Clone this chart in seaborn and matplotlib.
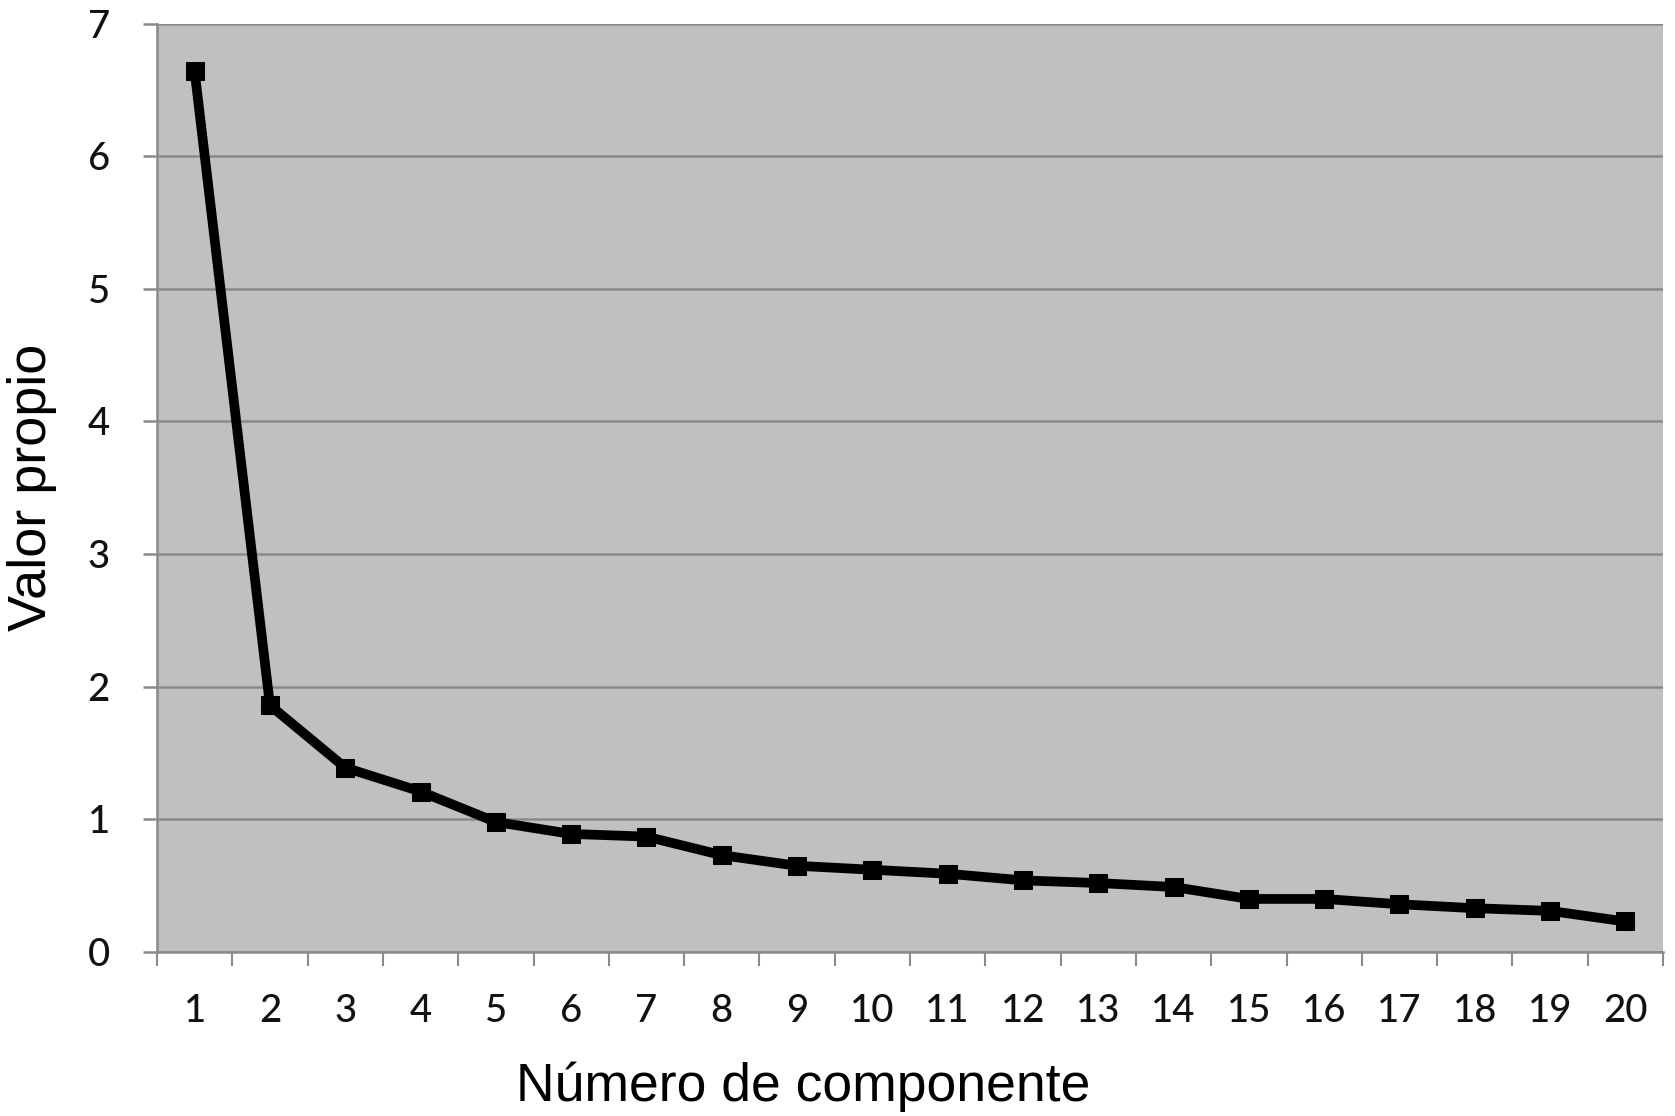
import matplotlib
matplotlib.use("Agg")
import matplotlib.pyplot as plt
import seaborn as sns
import pandas as pd
import numpy as np
from matplotlib.ticker import FixedLocator

componentes = list(range(1, 21))
valores = [6.64, 1.86, 1.39, 1.21, 0.98, 0.89, 0.87, 0.73, 0.65, 0.62,
           0.59, 0.54, 0.52, 0.49, 0.40, 0.40, 0.36, 0.33, 0.31, 0.23]
y_ticks = [0, 1, 2, 3, 4, 5, 6, 7]
x_label = "Número de componente"
y_label = "Valor propio"

df = pd.DataFrame({"componente": componentes, "valor": valores})

sns.set_style("white")
fig = plt.figure(figsize=(16.75, 11.16), dpi=100)
ax = fig.add_axes([157/1675, 1-952/1116, (1663-157)/1675, (952-23.5)/1116])
ax.set_facecolor("#c0c0c0")

sns.lineplot(data=df, x="componente", y="valor", ax=ax, color="black",
             linewidth=7, marker="s", markersize=13, markeredgecolor="black",
             markerfacecolor="black", zorder=5)

ax.set_xlim(0.5, 20.5)
ax.set_ylim(0, 7)
ax.set_yticks(y_ticks)
ax.yaxis.grid(True, color="#8a8a8a", linewidth=1.8)
ax.set_axisbelow(True)

ax.set_xticks(componentes)
ax.set_xticklabels([str(c) for c in componentes])
ax.xaxis.set_minor_locator(FixedLocator(np.arange(0.5, 21, 1.0)))
ax.tick_params(axis="x", which="major", length=0, pad=30, labelsize=27.5,
               labelcolor="#111111")
ax.tick_params(axis="x", which="minor", length=10, width=1.5, color="#8a8a8a",
               direction="out", bottom=True)
ax.tick_params(axis="y", which="major", length=10, width=1.8, color="#8a8a8a",
               pad=24, labelsize=27.5, labelcolor="#111111", left=True)

for t in ax.get_xticklabels() + ax.get_yticklabels():
    t.set_family(["Lato", "DejaVu Sans"])
    t.set_fontweight("medium")

for side in ["top", "right"]:
    ax.spines[side].set_visible(False)
for side in ["left", "bottom"]:
    ax.spines[side].set_color("#8a8a8a")
    ax.spines[side].set_linewidth(1.8)

ax.set_xlabel(x_label, fontsize=38.5, family=["Liberation Sans", "DejaVu Sans"],
              color="black")
ax.set_ylabel(y_label, fontsize=39, family=["Liberation Sans", "DejaVu Sans"],
              color="black")
ax.xaxis.label.set_verticalalignment("center")
ax.yaxis.label.set_verticalalignment("center")
ax.xaxis.set_label_coords(0.429, -0.145)
ax.yaxis.set_label_coords(-0.083, 0.5)

fig.savefig("out.png", dpi=100, facecolor="white")
